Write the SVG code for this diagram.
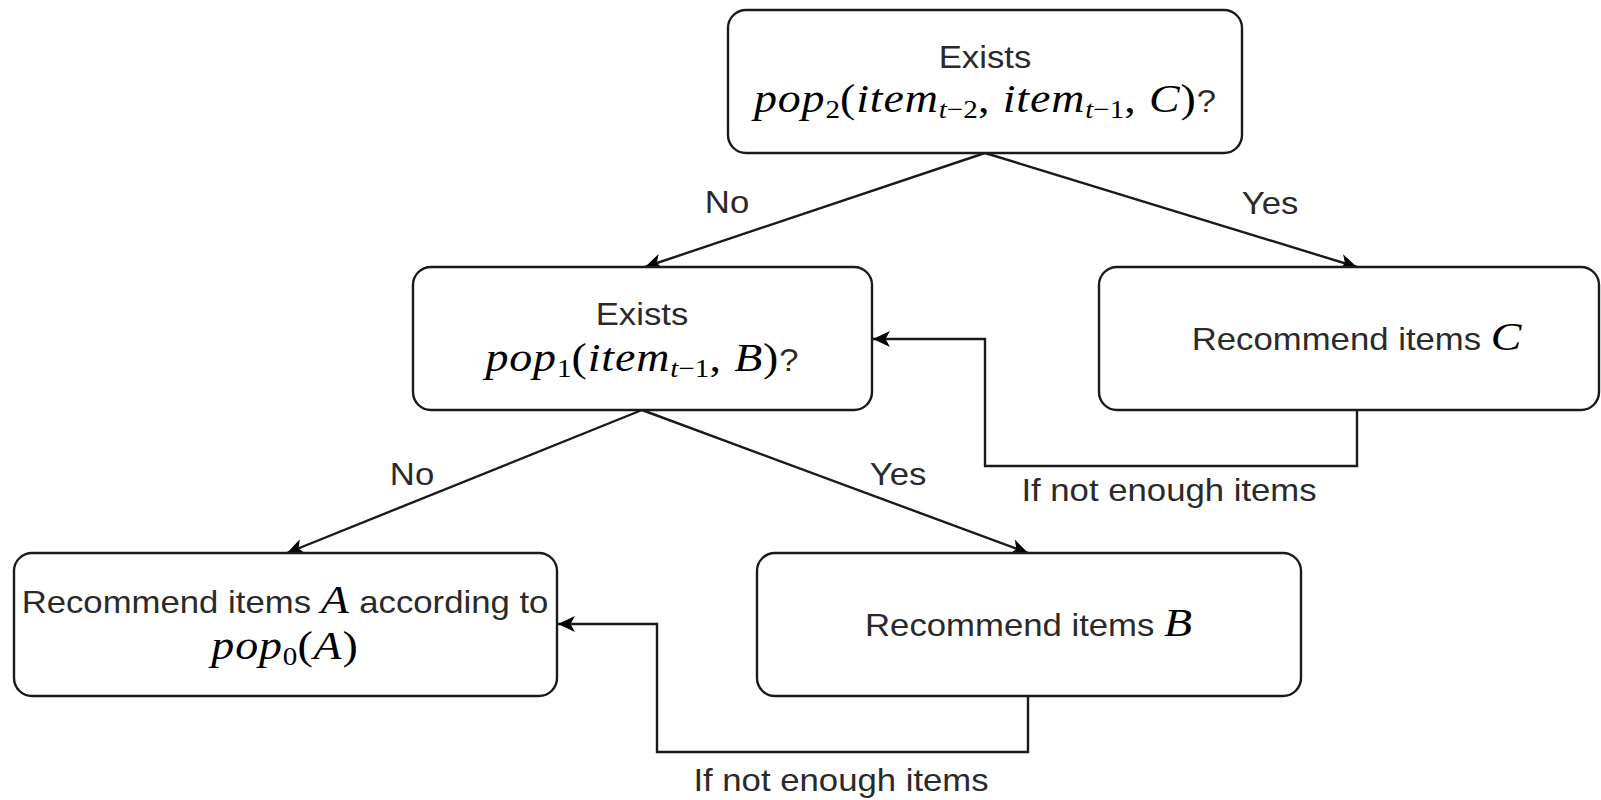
<svg xmlns="http://www.w3.org/2000/svg" width="1601" height="800" viewBox="0 0 1601 800">
<style>
.box{fill:#fff;stroke:#1a1a1a;stroke-width:2.4}
.edge{fill:none;stroke:#1a1a1a;stroke-width:2.4}
.t{font-family:"Liberation Sans",Arial,sans-serif;font-size:31px;fill:#2a2a2a;text-anchor:middle}
.m{font-family:"Liberation Serif","Times New Roman",serif;font-style:italic;font-size:41px;fill:#000;letter-spacing:0.8px}
.mu{font-family:"Liberation Serif","Times New Roman",serif;font-style:normal;font-size:41px;fill:#000;letter-spacing:0.8px}
.si{font-family:"Liberation Serif","Times New Roman",serif;font-style:italic;font-size:26px;fill:#000}
.su{font-family:"Liberation Serif","Times New Roman",serif;font-style:normal;font-size:26px;fill:#000}
</style>
<defs>
<marker id="arr" viewBox="0 0 18 18" refX="17" refY="9" markerWidth="18" markerHeight="18" markerUnits="userSpaceOnUse" orient="auto">
<path d="M17,9 L0,1 L4.5,9 L0,17 Z" fill="#000"/>
</marker>
</defs>
<rect width="1601" height="800" fill="#fff"/>

<g id="connectors">
<line class="edge" x1="985" y1="153" x2="645" y2="267" marker-end="url(#arr)"/>
<line class="edge" x1="985" y1="153" x2="1357" y2="267" marker-end="url(#arr)"/>
<line class="edge" x1="642" y1="410" x2="287" y2="553" marker-end="url(#arr)"/>
<line class="edge" x1="642" y1="410" x2="1028" y2="553" marker-end="url(#arr)"/>
<path class="edge" d="M1357,410 V466 H985 V339 H873" marker-end="url(#arr)"/>
<path class="edge" d="M1028,696 V752 H657 V624 H558" marker-end="url(#arr)"/>
<text class="t" transform="translate(727,213) scale(1.12,1)">No</text>
<text class="t" transform="translate(1270,214) scale(1.12,1)">Yes</text>
<text class="t" transform="translate(412,485) scale(1.12,1)">No</text>
<text class="t" transform="translate(898,485) scale(1.12,1)">Yes</text>
<text class="t" transform="translate(1169,501) scale(1.12,1)">If not enough items</text>
<text class="t" transform="translate(841,791) scale(1.12,1)">If not enough items</text>
</g>

<g id="node-top">
<rect class="box" x="728" y="10" width="514" height="143" rx="18"/>
<text class="t" transform="translate(985,68) scale(1.12,1)">Exists</text>
<text class="t" transform="translate(985,112) scale(1.12,1)"><tspan class="m">pop</tspan><tspan class="su" dy="6">2</tspan><tspan class="mu" dy="-6">(</tspan><tspan class="m">item</tspan><tspan class="si" dy="6">t</tspan><tspan class="su">−2</tspan><tspan class="mu" dy="-6">, </tspan><tspan class="m">item</tspan><tspan class="si" dy="6">t</tspan><tspan class="su">−1</tspan><tspan class="mu" dy="-6">, </tspan><tspan class="m">C</tspan><tspan class="mu">)</tspan><tspan>?</tspan></text>
</g>

<g id="node-pop1">
<rect class="box" x="413" y="267" width="459" height="143" rx="18"/>
<text class="t" transform="translate(642,325) scale(1.12,1)">Exists</text>
<text class="t" transform="translate(642,371) scale(1.12,1)"><tspan class="m">pop</tspan><tspan class="su" dy="6">1</tspan><tspan class="mu" dy="-6">(</tspan><tspan class="m">item</tspan><tspan class="si" dy="6">t</tspan><tspan class="su">−1</tspan><tspan class="mu" dy="-6">, </tspan><tspan class="m">B</tspan><tspan class="mu">)</tspan><tspan>?</tspan></text>
</g>

<g id="node-c">
<rect class="box" x="1099" y="267" width="500" height="143" rx="18"/>
<text class="t" transform="translate(1357,350) scale(1.12,1)">Recommend items <tspan class="m">C</tspan></text>
</g>

<g id="node-a">
<rect class="box" x="14" y="553" width="543" height="143" rx="18"/>
<text class="t" transform="translate(285,613) scale(1.12,1)">Recommend items <tspan class="m">A</tspan> according to</text>
<text class="t" transform="translate(285,659) scale(1.12,1)"><tspan class="m">pop</tspan><tspan class="su" dy="6">0</tspan><tspan class="mu" dy="-6">(</tspan><tspan class="m">A</tspan><tspan class="mu">)</tspan></text>
</g>

<g id="node-b">
<rect class="box" x="757" y="553" width="544" height="143" rx="18"/>
<text class="t" transform="translate(1029,636) scale(1.12,1)">Recommend items <tspan class="m">B</tspan></text>
</g>
</svg>
